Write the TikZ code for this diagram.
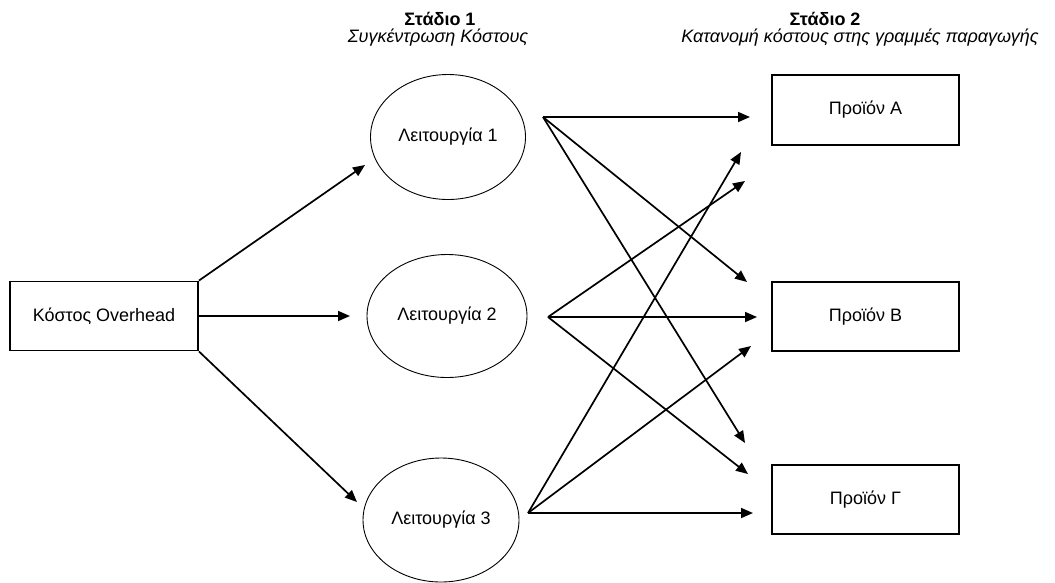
\documentclass[tikz,border=0pt]{standalone}
\usepackage{fontspec}
\setmainfont{Liberation Sans}
\usetikzlibrary{shapes.geometric,arrows.meta}
\tikzset{
  box/.style={draw, line width=1.8pt, minimum width=188pt, minimum height=69pt, inner sep=0pt, font=\fontsize{18}{22}\selectfont},
  oper/.style={draw, ellipse, line width=0.9pt, inner sep=0pt, font=\fontsize{18}{22}\selectfont},
  arr/.style={line width=1.7pt, -{Triangle[length=12pt,width=10pt]}},
  head/.style={font=\fontsize{18}{22}\selectfont\bfseries, anchor=base},
  sub/.style={font=\fontsize{18}{22}\selectfont\itshape, anchor=base}
}
\begin{document}
\begin{tikzpicture}[x=1pt,y=-1pt]
\useasboundingbox (0,0) rectangle (1055,582);
% headers
\node[head] (h1) at (440,25) {Στάδιο 1};
\node[sub] (s1t) at (438,42) {Συγκέντρωση Κόστους};
\node[head] (h2) at (825,25) {Στάδιο 2};
\node[sub] (s2t) at (860,42) {Κατανομή κόστους στης γραμμές παραγωγής};
% nodes
\node[box] (ovh) at (104,316) {Κόστος Overhead};
\node[oper, minimum width=155pt, minimum height=125pt] (op1) at (448,137) {Λειτουργία 1};
\node[oper, minimum width=160pt, minimum height=123pt] (op2) at (447,316) {Λειτουργία 2};
\node[oper, minimum width=156pt, minimum height=124pt] (op3) at (441,520) {Λειτουργία 3};
\node[box, minimum width=187pt, minimum height=70pt] (pA) at (865.5,110) {Προϊόν Α};
\node[box, minimum width=187pt] (pB) at (865.5,316.5) {Προϊόν Β};
\node[box, minimum width=187pt] (pG) at (865.5,499.5) {Προϊόν Γ};
% free ends
\coordinate (t1) at (365,165);
\coordinate (t2) at (350,316);
\coordinate (t3) at (357,502);
\coordinate (s1) at (543,117);
\coordinate (s2) at (548,317);
\coordinate (s3) at (528,513);
\coordinate (a1) at (750,117);
\coordinate (a2) at (745,181);
\coordinate (a3) at (741,152);
\coordinate (b1) at (757,317);
\coordinate (b2) at (747,282);
\coordinate (b3) at (751,346);
\coordinate (g1) at (753,513);
\coordinate (g2) at (745,443);
\coordinate (g3) at (748,474);
% overhead arrows
\draw[arr] (ovh.north east) -- (t1);
\draw[arr] (ovh.east) -- (t2);
\draw[arr] (ovh.south east) -- (t3);
% stage 2 arrows
\draw[arr] (s1) -- (a1);
\draw[arr] (s1) -- (b2);
\draw[arr] (s1) -- (g2);
\draw[arr] (s2) -- (b1);
\draw[arr] (s2) -- (a2);
\draw[arr] (s2) -- (g3);
\draw[arr] (s3) -- (g1);
\draw[arr] (s3) -- (b3);
\draw[arr] (s3) -- (a3);
\end{tikzpicture}
\end{document}
